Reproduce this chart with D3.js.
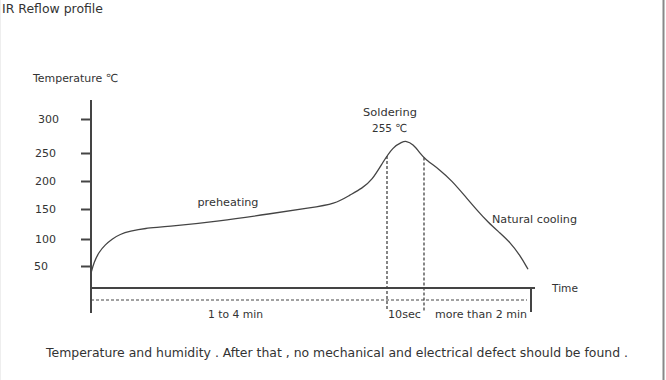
<!DOCTYPE html>
<html><head><meta charset="utf-8">
<script src="https://cdn.jsdelivr.net/npm/d3@7"></script>
<style>
html,body{margin:0;padding:0;background:#fff;}
svg{display:block;font-family:"DejaVu Sans","Noto Sans",sans-serif;}
</style></head>
<body>
<svg id="chart" width="666" height="380"></svg>
<script>
// ---- data ----
const yTickValues = [50, 100, 150, 200, 250, 300];
// time (arbitrary units along the profile) and temperature (°C)
const profileTime = [0, 3, 8, 14, 21, 29, 39, 54, 74, 129, 179, 219, 244, 259, 271, 281, 292, 302, 311, 315, 322, 329, 334, 349, 361, 374, 386, 397, 409, 419, 429, 437];
const profileTemp = [37, 57, 76, 89, 100, 108, 113, 118, 120, 130, 142, 152, 159, 175, 187, 201, 234, 259, 266, 268, 263, 250, 239, 220, 200, 173, 148, 128, 110, 94, 70, 44];
const phaseBounds = [0, 296, 333, 440];
const phaseLabels = ["1 to 4 min", "10sec", "more than 2 min"];
const titleText = "IR Reflow profile";
const yLabel = "Temperature ℃";
const xLabel = "Time";
const noteText = "Temperature and humidity . After that , no mechanical and electrical defect should be found .";

const svg = d3.select("#chart");
const ink = "#444", txt = "#333";

// piecewise y scale (the drawing's tick spacing is uneven)
const y = d3.scaleLinear().domain(yTickValues).range([266, 239, 209, 181, 153, 119]);
const x = d3.scaleLinear().domain([0, 440]).range([91, 531]);

function label(xp, yp, s, size, w, anchor) {
  const t = svg.append("text").attr("x", xp).attr("y", yp).attr("font-size", size)
    .attr("fill", txt).attr("text-anchor", anchor || "start").text(s);
  if (w) t.attr("textLength", w).attr("lengthAdjust", "spacingAndGlyphs");
  return t;
}

// frame
svg.append("line").attr("x1", 663.5).attr("x2", 663.5).attr("y1", 0).attr("y2", 380)
  .attr("stroke", "#888").attr("stroke-width", 2);
svg.append("line").attr("x1", 0.5).attr("x2", 0.5).attr("y1", 0).attr("y2", 380)
  .attr("stroke", "#eee").attr("stroke-width", 1);

// title and axis titles
label(2, 12.5, titleText, 12, 101);
label(33, 82, yLabel, 11, 85);

// y axis
const yAxis = svg.append("g").attr("transform", `translate(${x(0)},0)`)
  .call(d3.axisLeft(y).tickValues(yTickValues).tickSize(10).tickFormat(d3.format("d")));
yAxis.select(".domain").remove();
yAxis.selectAll(".tick line").attr("stroke", ink).attr("stroke-width", 2);
yAxis.selectAll(".tick text").attr("x", d => d === 300 ? -53 : d === 50 ? -57 : -56)
  .attr("text-anchor", "start").attr("dy", "0.35em")
  .attr("font-size", 11).attr("fill", txt).attr("font-family", "DejaVu Sans, sans-serif");
svg.append("line").attr("x1", x(0)).attr("x2", x(0)).attr("y1", 100).attr("y2", 313)
  .attr("stroke", ink).attr("stroke-width", 2);

// x axis line
svg.append("line").attr("x1", x(0)).attr("x2", x(444)).attr("y1", 288).attr("y2", 288)
  .attr("stroke", ink).attr("stroke-width", 2);
label(552, 292, xLabel, 11, 26);

// dashed duration line
svg.append("line").attr("x1", x(0)).attr("x2", x(436)).attr("y1", 300).attr("y2", 300)
  .attr("stroke", ink).attr("stroke-width", 1).attr("stroke-dasharray", "3,2");
svg.append("line").attr("x1", x(440)).attr("x2", x(440)).attr("y1", 288).attr("y2", 312)
  .attr("stroke", ink).attr("stroke-width", 2);

// curve
const pts = profileTime.map((t, i) => [t, profileTemp[i]]);
const line = d3.line().x(d => x(d[0])).y(d => y(d[1])).curve(d3.curveBasis);
const path = svg.append("path").datum(pts).attr("d", line)
  .attr("fill", "none").attr("stroke", ink).attr("stroke-width", 1.3);

// dotted verticals at soldering window
function curveYAt(t) {
  const node = path.node(), L = node.getTotalLength();
  let lo = 0, hi = L;
  for (let k = 0; k < 40; k++) {
    const mid = (lo + hi) / 2;
    if (node.getPointAtLength(mid).x < x(t)) lo = mid; else hi = mid;
  }
  return node.getPointAtLength(lo).y;
}
[phaseBounds[1], phaseBounds[2]].forEach(t => {
  svg.append("line").attr("x1", x(t)).attr("x2", x(t)).attr("y1", curveYAt(t)).attr("y2", 311)
    .attr("stroke", ink).attr("stroke-width", 1.3).attr("stroke-dasharray", "3,2");
});

// phase labels
const phaseLabelX = [235.5, 404.5, 481];
const phaseLabelW = [55, 33, 92];
phaseLabels.forEach((lab, i) => label(phaseLabelX[i], 318, lab, 11, phaseLabelW[i], "middle"));

// annotations
label(x(137), y(155), "preheating", 11, 61, "middle");
label(x(401), y(127), "Natural cooling", 11, 85);
label(390, 116, "Soldering", 11, 54, "middle");
label(389.5, 132, "255 ℃", 11, 35, "middle");

// note
label(337, 357, noteText, 12, 582, "middle");
</script>
</body></html>
